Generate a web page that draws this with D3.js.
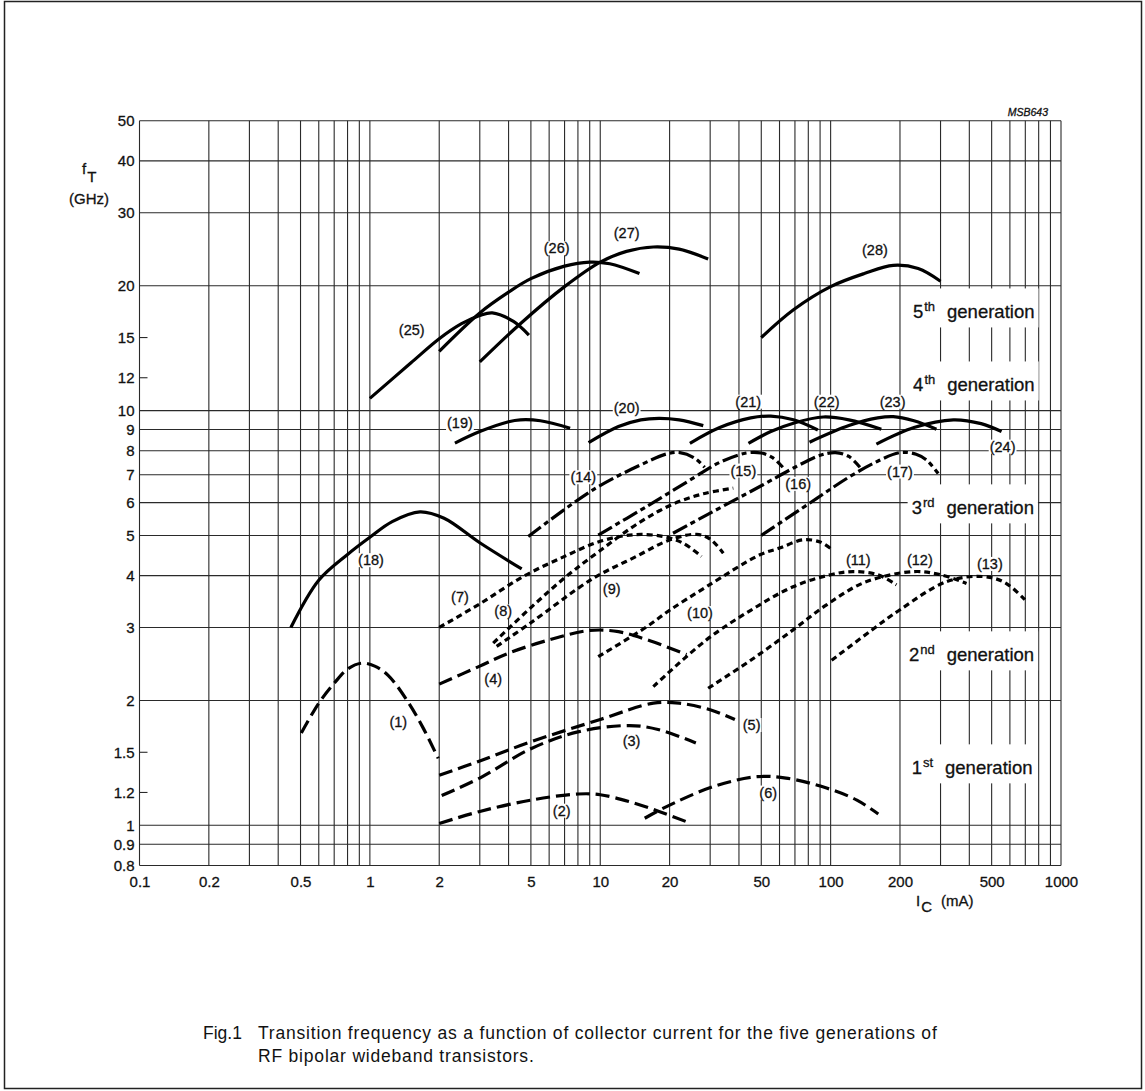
<!DOCTYPE html>
<html><head><meta charset="utf-8">
<script src="https://cdn.jsdelivr.net/npm/d3@7"></script>
<style>
body{margin:0;background:#fff}
text{font-family:"Liberation Sans",Arial,Helvetica,sans-serif;fill:#111;stroke:#111;stroke-width:0.3px}
text.caption{stroke:none}
</style>
</head><body>
<svg id="chart" width="1145" height="1091"></svg>
<script>
// ---------- tick values ----------
const xTickLabels = [0.1,0.2,0.5,1,2,5,10,20,50,100,200,500,1000];
const yGridValues = [0.8,0.9,1,2,3,4,5,6,7,8,9,10,20,30,40,50];
const yTickLabels = [0.8,0.9,1,1.2,1.5,2,3,4,5,6,7,8,9,10,12,15,20,30,40,50];
const yMinorTicks = [1.2,1.5,12,15];

// ---------- curves: [Ic (mA), fT (GHz)] ----------
// 1st generation
const curve01 = [[0.504,1.67],[0.6,1.97],[0.7,2.2],[0.8,2.38],[0.92,2.46],[1.05,2.42],[1.2,2.3],[1.45,2.0],[1.7,1.72],[1.98,1.45]];
const curve02 = [[2,1.01],[3,1.08],[5,1.15],[8,1.19],[10,1.185],[13.4,1.14],[18,1.08],[23.7,1.02]];
const curve03 = [[2.05,1.18],[3,1.3],[5,1.53],[8,1.68],[13.4,1.74],[18,1.7],[26,1.58]];
const curve04 = [[2,2.19],[3,2.42],[4,2.6],[6,2.8],[9,2.95],[12,2.93],[16,2.8],[23.7,2.58]];
const curve05 = [[2,1.32],[3,1.43],[5,1.59],[10,1.8],[17,1.97],[22,1.97],[30,1.9],[38.4,1.8]];
const curve06 = [[15.6,1.04],[18.8,1.1],[31,1.24],[48,1.31],[64,1.3],[96,1.23],[130,1.15],[161,1.065]];
// 2nd generation
const curve07 = [[2,3.0],[3,3.42],[4.63,3.98],[7,4.45],[10,4.84],[14,5.02],[18.8,4.97],[22.9,4.79],[27.5,4.45]];
const curve08 = [[3.43,2.75],[5,3.35],[7,3.95],[10,4.6],[15,5.4],[20.7,5.95],[28,6.3],[37.8,6.5]];
const curve09 = [[3.55,2.7],[5,3.08],[9.32,3.94],[14,4.42],[20.1,4.88],[26.2,5.03],[30,4.9],[34.2,4.53]];
const curve10 = [[9.8,2.55],[15.9,3.01],[20,3.3],[28.9,3.76],[49.3,4.49],[60,4.66],[76,4.88],[90,4.82],[100,4.65]];
const curve11 = [[17,2.16],[28.9,2.8],[45,3.3],[68.7,3.76],[100,4.02],[125,4.09],[160,4.02],[193,3.8]];
const curve12 = [[29.4,2.14],[45,2.5],[68.7,2.96],[96,3.4],[140,3.85],[228,4.09],[300,4.02],[389,3.83]];
const curve13 = [[101,2.5],[150,2.95],[200,3.31],[319,3.87],[459,3.98],[570,3.85],[697,3.5]];
// 3rd generation
const curve14 = [[4.87,4.97],[9.3,6.44],[15,7.4],[19.4,7.86],[22.2,7.92],[25.5,7.7],[28.4,7.3]];
const curve15 = [[9.8,5.01],[15.9,5.87],[25.3,6.87],[33,7.5],[43,7.9],[50,7.9],[56,7.7],[62,7.3]];
const curve16 = [[20.7,5.06],[30,5.66],[49.3,6.56],[70,7.3],[90,7.8],[105,7.92],[120,7.75],[134,7.3]];
const curve17 = [[50,5.0],[80,5.95],[121,6.93],[160,7.55],[200,7.92],[235,7.85],[261,7.6],[293,7.05]];
// 4th generation
const curve18 = [[0.454,3.0],[0.6,3.9],[0.8,4.5],[1,4.95],[1.25,5.4],[1.65,5.7],[2.1,5.5],[3,4.8],[4.56,4.15]];
const curve19 = [[2.34,8.35],[3,8.9],[4,9.4],[4.5,9.5],[5.5,9.45],[7.4,9.07]];
const curve20 = [[8.9,8.37],[12,9.15],[15,9.5],[18,9.58],[22,9.5],[28,9.2]];
const curve21 = [[24.5,8.34],[33,9.1],[45,9.6],[55,9.7],[69,9.5],[88,8.98]];
const curve22 = [[44,8.34],[55,8.9],[70,9.35],[93,9.65],[120,9.5],[166,9.02]];
const curve23 = [[81,8.39],[120,9.2],[160,9.6],[187,9.67],[230,9.45],[288,9.02]];
const curve24 = [[158,8.3],[230,9.1],[341,9.5],[450,9.3],[552,8.9]];
// 5th generation
const curve25 = [[1.0,10.7],[1.5,13.0],[2,14.9],[2.5,16.2],[3,16.95],[3.4,17.2],[4.2,16.4],[4.9,15.2]];
const curve26 = [[2,13.9],[3,17.2],[4,19.3],[5,20.8],[7,22.3],[9,22.8],[11,22.6],[14.8,21.4]];
const curve27 = [[3,13.1],[4.5,16.2],[7,19.9],[10,22.8],[13,24.2],[17,24.8],[22,24.5],[29.4,23.2]];
const curve28 = [[50,15],[69,17.5],[100,19.9],[140,21.4],[187,22.4],[240,22.0],[300,20.5]];

const generation1 = [curve01,curve02,curve03,curve04,curve05,curve06];
const generation2 = [curve07,curve08,curve09,curve10,curve11,curve12,curve13];
const generation3 = [curve14,curve15,curve16,curve17];
const generation4 = [curve18,curve19,curve20,curve21,curve22,curve23,curve24];
const generation5 = [curve25,curve26,curve27,curve28];

// curve number labels: [number, Ic, fT] (label centre)
const curveLabels = [
 [1,1.328,1.779],[2,6.80,1.085],[3,13.68,1.60],[4,3.43,2.26],[5,45.4,1.746],[6,53.6,1.20],
 [7,2.46,3.56],[8,3.79,3.28],[9,11.21,3.71],[10,27.1,3.25],[11,131.8,4.36],[12,244,4.36],[13,491,4.27],
 [14,8.44,6.91],[15,41.8,7.17],[16,72.3,6.66],[17,200,7.13],
 [18,1.011,4.36],[19,2.46,9.32],[20,13.02,10.13],[21,43.9,10.51],[22,96.1,10.51],[23,185.8,10.51],[24,557.8,8.19],
 [25,1.519,15.64],[26,6.47,24.63],[27,13.02,26.77],[28,155.7,24.4]
];
// generation labels: [number, ordinal suffix, Ic, fT] (left end of baseline)
const generationLabels = [
 ["5","th",227.6,16.68],["4","th",228,11.12],["3","rd",224.7,5.62],["2","nd",218.7,2.485],["1","st",224.7,1.327]
];
const captionLines = [
 "Transition frequency as a function of collector current for the five generations of",
 "RF bipolar wideband transistors."
];

// ---------- drawing ----------
const svg = d3.select("#chart");
const x = d3.scaleLog().domain([0.1,1000]).range([139.5,1061]);
const y = d3.scaleLog().domain([0.8,50]).range([865.5,120.7]);

svg.append("rect").attr("x",4.5).attr("y",1.5).attr("width",1137).attr("height",1087)
  .attr("fill","none").attr("stroke","#222").attr("stroke-width",1.5);

const gGrid = svg.append("g");
const gBg = svg.append("g");
const gCurves = svg.append("g");
const gText = svg.append("g");

// vertical grid lines at every 1..9 multiple
const xGrid = [];
[0.1,1,10,100].forEach(dec => { for(let m=1;m<=9;m++) xGrid.push(+(m*dec).toPrecision(3)); });
xGrid.push(1000);
gGrid.selectAll(".vg").data(xGrid).join("line")
  .attr("x1",d=>x(d)).attr("x2",d=>x(d)).attr("y1",y(50)).attr("y2",y(0.8))
  .attr("stroke","#2a2a2a").attr("stroke-width",1.1);
gGrid.selectAll(".hg").data(yGridValues).join("line")
  .attr("x1",x(0.1)).attr("x2",x(1000)).attr("y1",d=>y(d)).attr("y2",d=>y(d))
  .attr("stroke","#2a2a2a").attr("stroke-width",1.1);
gGrid.selectAll(".mt").data(yMinorTicks).join("line")
  .attr("x1",x(0.1)).attr("x2",x(0.1)+8).attr("y1",d=>y(d)).attr("y2",d=>y(d))
  .attr("stroke","#2a2a2a").attr("stroke-width",1.1);

// axes labels
const fmt = d => String(d);
const xAxis = gText.append("g").attr("transform",`translate(0,${y(0.8)})`)
  .call(d3.axisBottom(x).tickValues(xTickLabels).tickSize(0).tickPadding(11).tickFormat(fmt));
const yAxis = gText.append("g").attr("transform",`translate(${x(0.1)},0)`)
  .call(d3.axisLeft(y).tickValues(yTickLabels).tickSize(0).tickPadding(5).tickFormat(fmt));
[xAxis,yAxis].forEach(a=>{
  a.select(".domain").remove();
  a.selectAll("text").attr("font-size",15).attr("fill","#111")
   .attr("font-family","'Liberation Sans',Arial,sans-serif");
});

// curves
const line = d3.line().x(d=>x(d[0])).y(d=>y(d[1])).curve(d3.curveCatmullRom.alpha(0.5));
const styles = [
  {data:generation1, dash:"14,6"},
  {data:generation2, dash:"6,4"},
  {data:generation3, dash:"16,4,5,4"},
  {data:generation4, dash:null},
  {data:generation5, dash:null}
];
styles.forEach(s=>{
  gCurves.selectAll(null).data(s.data).join("path")
    .attr("d",line).attr("fill","none").attr("stroke","#000")
    .attr("stroke-width",3.2).attr("stroke-linecap","butt")
    .attr("stroke-dasharray",s.dash);
});

// curve number labels with white background
curveLabels.forEach(([n,ic,ft])=>{
  const t = gText.append("text").attr("x",x(ic)).attr("y",y(ft)).attr("dy","0.35em")
    .attr("text-anchor","middle").attr("font-size",14.5).text(`(${n})`);
  const b = t.node().getBBox();
  gBg.append("rect").attr("x",b.x-1).attr("y",b.y+1).attr("width",b.width+2).attr("height",b.height-2).attr("fill","#fff");
});

// generation labels
generationLabels.forEach(([num,suf,ic,ft])=>{
  const bx = x(ic), by = y(ft);
  const t = gText.append("text").attr("x",bx).attr("y",by).attr("font-size",18.5);
  t.append("tspan").text(num);
  t.append("tspan").attr("font-size",13).attr("dy",-7).attr("dx",1).text(suf);
  t.append("tspan").attr("dy",7).attr("dx",12).text("generation");
  const b = t.node().getBBox();
  gBg.append("rect").attr("x",b.x-4).attr("y",by-30).attr("width",b.width+8).attr("height",39).attr("fill","#fff");
});

// axis titles
const ft = gText.append("text").attr("x",82).attr("y",174).attr("font-size",15);
ft.append("tspan").text("f");
ft.append("tspan").attr("dy",8).attr("dx",1).text("T");
gText.append("text").attr("x",89).attr("y",204).attr("text-anchor","middle").attr("font-size",15).text("(GHz)");
const ic = gText.append("text").attr("x",916).attr("y",906).attr("font-size",15);
ic.append("tspan").text("I");
ic.append("tspan").attr("dy",6).attr("dx",1).text("C");
ic.append("tspan").attr("dy",-6).attr("dx",9).text("(mA)");

gText.append("text").attr("x",1048).attr("y",116).attr("text-anchor","end")
  .attr("font-size",10.5).attr("font-style","italic").text("MSB643");

// caption
gText.append("text").attr("class","caption").attr("x",203).attr("y",1039).attr("font-size",17.5).text("Fig.1");
captionLines.forEach((s,i)=>{
  gText.append("text").attr("class","caption").attr("x",258).attr("y",1039+i*23).attr("font-size",17.5)
    .attr("letter-spacing",0.8).text(s);
});
</script>
</body></html>
